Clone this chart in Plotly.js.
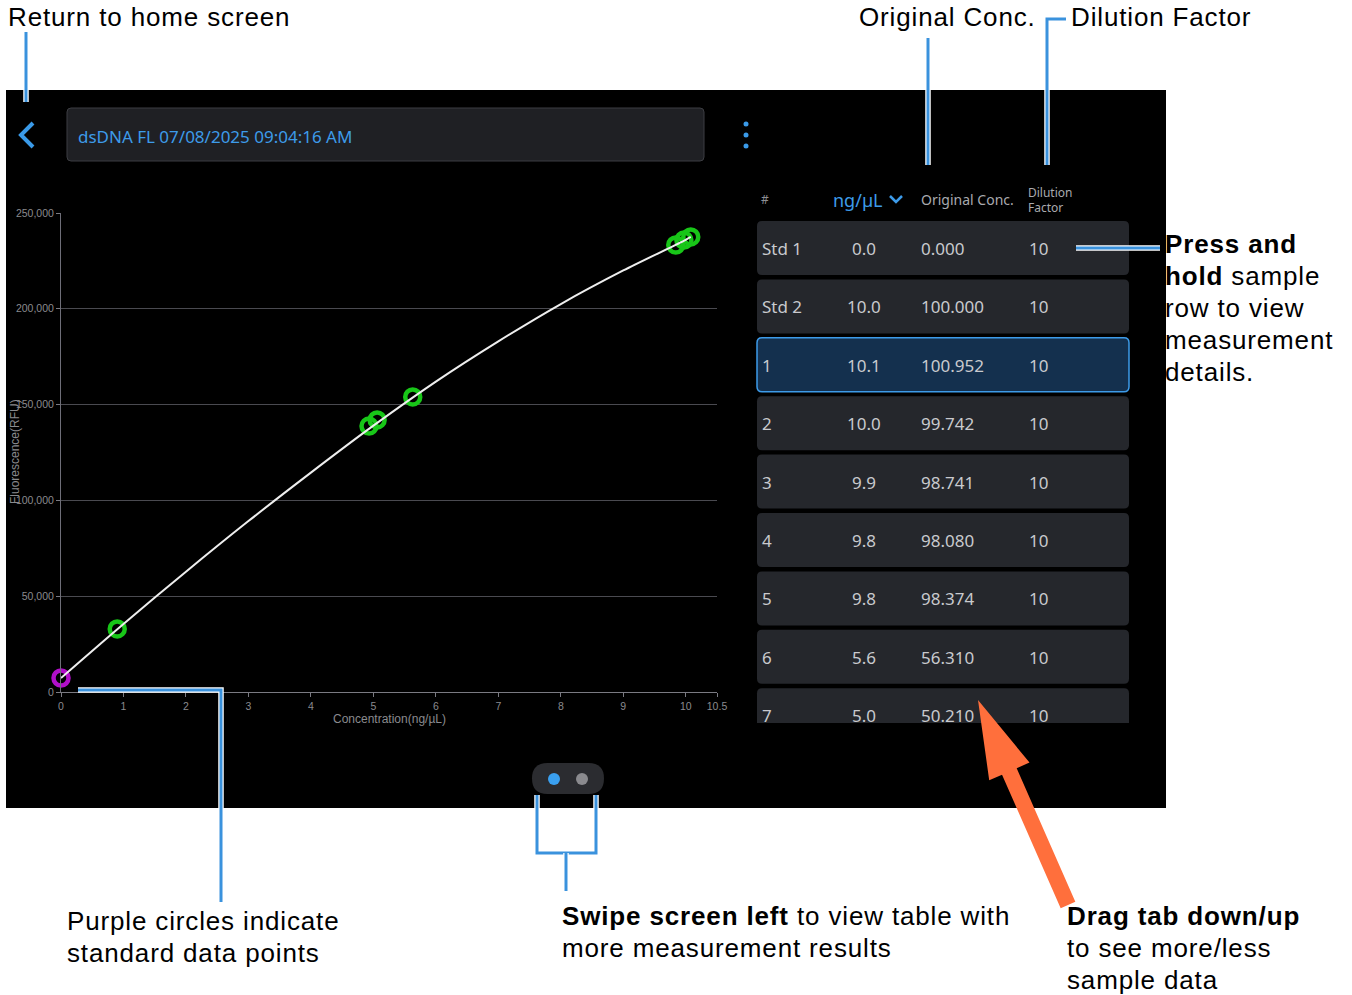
<!DOCTYPE html>
<html>
<head>
<meta charset="utf-8">
<script src="https://cdn.plot.ly/plotly-3.0.1.min.js"></script>
<style>
html,body{margin:0;padding:0;background:#fff;}
#chart{width:1352px;height:995px;}
text[style*="font-size: 26px"]{letter-spacing:0.85px;}
</style>
</head>
<body>
<div id="chart"></div>
<script>
// ---------- data ----------
const stdConc = [0];
const stdRFU = [7300];
const sampleConc = [0.9, 4.93, 5.06, 5.63, 9.84, 9.97, 10.08];
const sampleRFU = [32900, 138800, 142000, 154000, 233300, 235900, 237500];
const curveConc = [0, 1, 2, 3, 4, 5, 6, 7, 8, 9, 10, 10.08];
const curveRFU = [7300, 35500, 62800, 89200, 114500, 139000, 162000, 183000, 202500, 220000, 236000, 237500];
const xTickVals = [0, 1, 2, 3, 4, 5, 6, 7, 8, 9, 10, 10.5];
const yTickVals = [0, 50000, 100000, 150000, 200000, 250000];

const rowIds = ['Std 1', 'Std 2', '1', '2', '3', '4', '5', '6', '7'];
const rowConc = ['0.0', '10.0', '10.1', '10.0', '9.9', '9.8', '9.8', '5.6', '5.0'];
const rowOrig = ['0.000', '100.000', '100.952', '99.742', '98.741', '98.080', '98.374', '56.310', '50.210'];
const rowDil = ['10', '10', '10', '10', '10', '10', '10', '10', '10'];
const selectedRow = 2;

const headerTitle = 'dsDNA FL 07/08/2025 09:04:16 AM';

// ---------- helpers (pixel -> paper) ----------
const W = 1352, H = 995;
const X = p => p / W;
const Y = p => 1 - p / H;
function rrect(x0, y0, x1, y1, r, topOnly) {
  const p = (x, y) => X(x) + ',' + Y(y);
  let s = 'M' + p(x0 + r, y0) + ' L' + p(x1 - r, y0) + ' Q' + p(x1, y0) + ' ' + p(x1, y0 + r);
  if (topOnly) {
    s += ' L' + p(x1, y1) + ' L' + p(x0, y1);
  } else {
    s += ' L' + p(x1, y1 - r) + ' Q' + p(x1, y1) + ' ' + p(x1 - r, y1) + ' L' + p(x0 + r, y1) + ' Q' + p(x0, y1) + ' ' + p(x0, y1 - r);
  }
  s += ' L' + p(x0, y0 + r) + ' Q' + p(x0, y0) + ' ' + p(x0 + r, y0) + ' Z';
  return s;
}
function poly(pts) {
  return 'M' + pts.map(q => X(q[0]) + ',' + Y(q[1])).join(' L') + ' Z';
}
function pline(pts) {
  return 'M' + pts.map(q => X(q[0]) + ',' + Y(q[1])).join(' L');
}
const BLUE = '#3a92dd';
const shapes = [];
const ann = [];
function txt(x, y, text, font, xanchor, extra) {
  ann.push(Object.assign({xref: 'paper', yref: 'paper', x: X(x), y: Y(y), xanchor: xanchor || 'left', yanchor: 'middle',
    showarrow: false, text: text, font: font}, extra || {}));
}

// app background
shapes.push({type: 'rect', xref: 'paper', yref: 'paper', x0: X(6), x1: X(1166), y0: Y(808), y1: Y(90),
  fillcolor: '#000', line: {width: 0}, layer: 'below'});
// title box
shapes.push({type: 'path', xref: 'paper', yref: 'paper', path: rrect(67, 108, 704, 161, 4),
  fillcolor: '#1f2024', line: {color: '#3c3d42', width: 1}, layer: 'below'});
txt(76, 136, headerTitle, {family: 'Noto Sans', size: 17, color: '#3d9be9'});
// back chevron
shapes.push({type: 'path', xref: 'paper', yref: 'paper', path: pline([[33, 123], [21, 135], [33, 147]]),
  line: {color: '#3a9ae8', width: 4}, layer: 'above'});
// menu dots
[124, 135, 146].forEach(cy => shapes.push({type: 'circle', xref: 'paper', yref: 'paper',
  x0: X(743.5), x1: X(748.5), y0: Y(cy + 2.5), y1: Y(cy - 2.5), fillcolor: '#3a9ae8', line: {width: 0}}));

// table header
const HF = {family: 'Noto Sans', size: 12, color: '#a9aaae'};
txt(759, 200, '#', {family: 'Noto Sans', size: 12, color: '#8e8f94'});
txt(831, 200, 'ng/µL', {family: 'Noto Sans', size: 18, color: '#3d9be9'});
shapes.push({type: 'path', xref: 'paper', yref: 'paper', path: pline([[890, 196], [896, 202], [902, 196]]),
  line: {color: '#3d9be9', width: 2.5}});
txt(919, 200, 'Original Conc.', {family: 'Noto Sans', size: 14, color: '#a9aaae'});
txt(1027, 192, 'Dilution', HF, 'left', {borderpad: 0});
txt(1027, 207.5, 'Factor', HF, 'left', {borderpad: 0});

// table rows
rowIds.forEach((id, i) => {
  const top = 221 + i * 58.4;
  const last = i === rowIds.length - 1;
  const bottom = last ? 723 : top + 54;
  const sel = i === selectedRow;
  shapes.push({type: 'path', xref: 'paper', yref: 'paper', path: rrect(757, top, 1129, bottom, 5, last),
    fillcolor: sel ? '#14304e' : '#25272c', line: {color: sel ? '#3d9be9' : '#25272c', width: sel ? 1.5 : 0}, layer: 'below'});
  const cy = top + 27.5;
  const f = {family: 'Noto Sans', size: 17, color: '#c9cace'};
  txt(760, cy, id, f);
  txt(864, cy, rowConc[i], f, 'center');
  txt(919, cy, rowOrig[i], f);
  txt(1027, cy, rowDil[i], f);
});

// page indicator
shapes.push({type: 'path', xref: 'paper', yref: 'paper', path: rrect(532, 763, 604, 794, 15.5),
  fillcolor: '#2b2c30', line: {width: 0}});
shapes.push({type: 'circle', xref: 'paper', yref: 'paper', x0: X(548), x1: X(560), y0: Y(785), y1: Y(773), fillcolor: '#3aa0f0', line: {width: 0}});
shapes.push({type: 'circle', xref: 'paper', yref: 'paper', x0: X(576), x1: X(588), y0: Y(785), y1: Y(773), fillcolor: '#8a8a8e', line: {width: 0}});

// chart axis titles
txt(15, 452, 'Fluorescence(RFU)', {family: 'Liberation Sans', size: 12, color: '#8a8a8e'}, 'center', {textangle: -90});
txt(390, 719, 'Concentration(ng/µL)', {family: 'Liberation Sans', size: 12, color: '#8a8a8e'}, 'center');

// ---------- callouts ----------
function bline(pts, w) {
  shapes.push({type: 'path', xref: 'paper', yref: 'paper', path: pline(pts), line: {color: '#fff', width: (w || 3) + 2.5}, layer: 'above'});
  shapes.push({type: 'path', xref: 'paper', yref: 'paper', path: pline(pts), line: {color: BLUE, width: w || 3}, layer: 'above'});
}
bline([[26, 32], [26, 102]]);
bline([[928, 38], [928, 165]]);
bline([[1066, 19], [1047, 19], [1047, 165]]);
bline([[1076, 248], [1160, 248]]);
bline([[78, 690], [221, 690], [221, 902]]);
bline([[537, 795], [537, 853], [596, 853], [596, 795]]);
bline([[566, 853], [566, 891]]);

const AF = {family: 'Liberation Sans', size: 26, color: '#000'};
txt(6, 17, 'Return to home screen', AF);
txt(1038, 17, 'Original Conc.', AF, 'right');
txt(1069, 17, 'Dilution Factor', AF);
const pressLines = ['<b>Press and</b>', '<b>hold</b> sample', 'row to view', 'measurement', 'details.'];
pressLines.forEach((t, i) => txt(1163, 244 + i * 32, t, AF));
['Purple circles indicate', 'standard data points'].forEach((t, i) => txt(65, 921 + i * 32, t, AF));
['<b>Swipe screen left</b> to view table with', 'more measurement results'].forEach((t, i) => txt(560, 916 + i * 32, t, AF));
['<b>Drag tab down/up</b>', 'to see more/less', 'sample data'].forEach((t, i) => txt(1065, 916 + i * 32, t, AF));

// orange arrow
(function () {
  const tip = [978, 700], tail = [1068, 905];
  const dx = tip[0] - tail[0], dy = tip[1] - tail[1], L = Math.hypot(dx, dy);
  const ux = dx / L, uy = dy / L, nx = -uy, ny = ux;
  const hl = 78, hw = 22, sw = 8;
  const bx = tip[0] - ux * hl, by = tip[1] - uy * hl;
  const pts = [tip, [bx + nx * hw, by + ny * hw], [bx + nx * sw, by + ny * sw], [tail[0] + nx * sw, tail[1] + ny * sw],
    [tail[0] - nx * sw, tail[1] - ny * sw], [bx - nx * sw, by - ny * sw], [bx - nx * hw, by - ny * hw]];
  shapes.push({type: 'path', xref: 'paper', yref: 'paper', path: poly(pts), fillcolor: '#ff6f3c', line: {width: 0}, layer: 'above'});
})();

// ---------- traces ----------
const traces = [
  {x: sampleConc, y: sampleRFU, type: 'scatter', mode: 'markers', cliponaxis: false,
    marker: {symbol: 'circle-open', size: 15, color: '#18c618', line: {color: '#18c618', width: 4.5}}},
  {x: stdConc, y: stdRFU, type: 'scatter', mode: 'markers', cliponaxis: false,
    marker: {symbol: 'circle-open', size: 15, color: '#b10fc8', line: {color: '#b10fc8', width: 4.5}}},
  {x: curveConc, y: curveRFU, type: 'scatter', mode: 'lines', cliponaxis: false,
    line: {color: '#eeeeee', width: 2, shape: 'spline', smoothing: 0.8}, hoverinfo: 'skip'}
];

const TF = {family: 'Liberation Sans', size: 10.5, color: '#8a8a8e'};
const layout = {
  width: W, height: H,
  margin: {l: 0, r: 0, t: 0, b: 0},
  paper_bgcolor: '#ffffff',
  plot_bgcolor: 'rgba(0,0,0,0)',
  showlegend: false,
  xaxis: {domain: [X(61), X(717)], range: [0, 10.5], tickvals: xTickVals, ticktext: xTickVals.map(String),
    showgrid: false, zeroline: false, showline: true, linecolor: '#7a7a82', linewidth: 1,
    ticks: 'outside', ticklen: 4, tickcolor: '#7a7a82', tickfont: TF},
  yaxis: {domain: [Y(692), Y(213)], range: [0, 250000], tickvals: yTickVals, tickformat: ',',
    showgrid: true, gridcolor: '#4a4a50', gridwidth: 1, zeroline: false, showline: true, linecolor: '#6e6e78', linewidth: 1,
    ticks: 'outside', ticklen: 4, tickcolor: '#7a7a82', tickfont: TF},
  shapes: shapes,
  annotations: ann
};

Plotly.newPlot('chart', traces, layout, {displayModeBar: false, staticPlot: true});
</script>
</body>
</html>
